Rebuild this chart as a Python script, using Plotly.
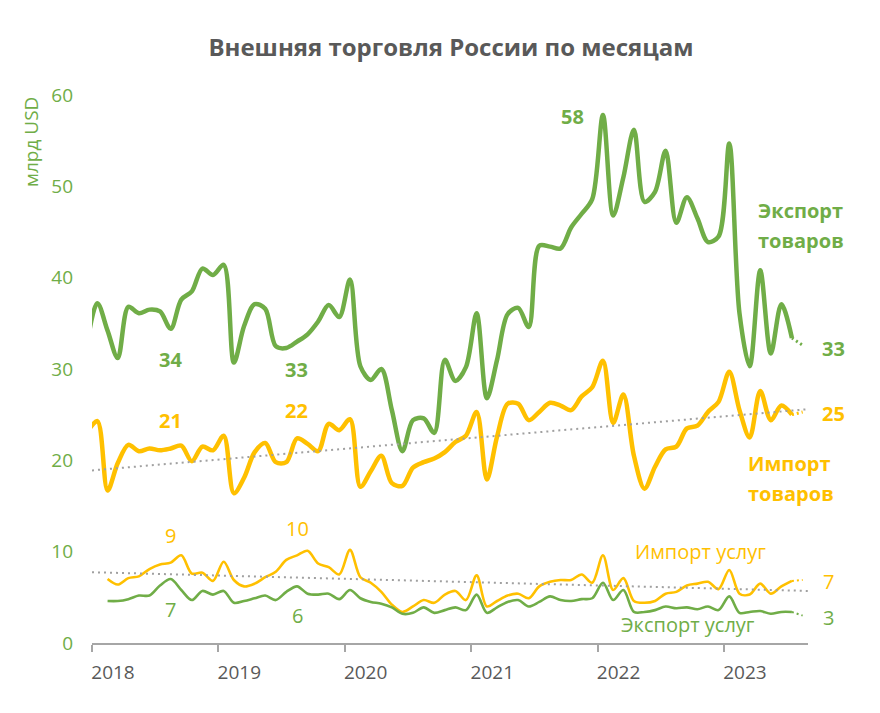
import pandas as pd
import plotly.graph_objects as go

# ---------------- data (billion USD, monthly) ----------------
goods_months = [p.strftime("%Y-%m") for p in pd.period_range("2017-12", "2023-08", freq="M")]
services_months = [p.strftime("%Y-%m") for p in pd.period_range("2018-02", "2023-08", freq="M")]

export_goods = [32.5,
    37.2, 34.2, 31.2, 36.8, 36.1, 36.5, 36.3, 34.4, 37.6, 38.5, 41.0, 40.3,
    41.4, 30.7, 34.7, 37.1, 36.6, 32.5, 32.3, 33.0, 33.8, 35.2, 37.0, 35.7,
    39.8, 30.3, 28.8, 30.0, 25.5, 21.0, 24.4, 24.6, 23.0, 31.0, 28.7, 30.2,
    36.1, 26.8, 31.0, 36.0, 36.7, 34.6, 43.5, 43.4, 43.2, 45.5, 47.0, 48.6,
    57.8, 46.8, 51.0, 56.2, 48.3, 49.4, 53.9, 46.0, 48.8, 46.5, 43.9, 44.5,
    54.7, 36.1, 30.3, 40.8, 31.7, 37.1, 33.4, 32.6]

import_goods = [23.0,
    24.3, 16.7, 19.7, 21.7, 21.0, 21.3, 21.1, 21.3, 21.6, 19.9, 21.5, 21.1,
    22.7, 16.4, 18.1, 20.9, 21.9, 19.8, 19.8, 22.4, 21.8, 21.0, 24.0, 23.3,
    24.5, 17.1, 18.8, 20.5, 17.5, 17.2, 19.2, 19.8, 20.2, 20.9, 22.0, 22.7,
    25.3, 17.9, 22.6, 26.2, 26.2, 24.4, 25.3, 26.3, 26.0, 25.5, 27.0, 28.0,
    30.9, 24.1, 27.2, 20.5, 16.9, 19.3, 21.2, 21.5, 23.5, 23.8, 25.3, 26.4,
    29.7, 25.5, 22.5, 27.6, 24.4, 26.0, 25.0, 25.3]

import_services = [
    7.0, 6.4, 7.1, 7.3, 8.1, 8.6, 8.8, 9.6, 7.6, 7.7, 6.8,
    8.9, 6.9, 6.2, 6.5, 7.2, 7.8, 9.1, 9.6, 10.1, 8.7, 8.3, 7.5,
    10.2, 7.2, 6.6, 5.6, 4.2, 3.4, 4.0, 4.7, 4.4, 5.3, 5.7, 4.7,
    7.4, 4.0, 4.6, 5.2, 5.4, 4.9, 6.2, 6.7, 6.9, 6.9, 7.5, 6.6,
    9.6, 5.8, 7.1, 4.6, 4.4, 4.6, 5.4, 5.6, 6.3, 6.5, 6.7, 5.9,
    8.0, 5.4, 5.3, 6.5, 5.4, 6.2, 6.8, 6.9]

export_services = [
    4.6, 4.6, 4.8, 5.2, 5.2, 6.3, 7.0, 5.8, 4.7, 5.7, 5.3,
    5.7, 4.4, 4.6, 4.9, 5.2, 4.7, 5.6, 6.2, 5.4, 5.3, 5.4, 4.8,
    5.8, 4.9, 4.5, 4.3, 3.9, 3.2, 3.3, 3.9, 3.3, 3.6, 3.9, 3.6,
    5.3, 3.3, 3.9, 4.5, 4.7, 4.0, 4.5, 5.1, 4.7, 4.6, 4.8, 4.9,
    6.6, 4.7, 5.8, 3.4, 3.4, 3.6, 4.0, 3.8, 3.9, 3.7, 4.0, 3.6,
    5.1, 3.3, 3.4, 3.5, 3.2, 3.4, 3.4, 3.0]

# linear trend lines (values at the two ends of the axis)
trend_x = ["2018-01-01", "2023-09-01"]
trend_import_goods = [18.9, 25.6]
trend_import_services = [7.75, 5.7]

year_ticks = ["2018-01-01", "2019-01-01", "2020-01-01", "2021-01-01", "2022-01-01", "2023-01-01"]
year_labels = ["2018", "2019", "2020", "2021", "2022", "2023"]
y_ticks = [0, 10, 20, 30, 40, 50, 60]


def mid_month(m):
    p = pd.Period(m, freq="M")
    return p.start_time + (p.end_time - p.start_time) / 2


gx = [mid_month(m) for m in goods_months]
sx = [mid_month(m) for m in services_months]

GREEN = "#70AD47"
YELLOW = "#FFC000"
GRAY_T = "#595959"
FONT = "Open Sans"

fig = go.Figure()


def add_series(x, y, color, width):
    # solid part, last month dotted
    fig.add_trace(go.Scatter(x=x[:-1], y=y[:-1], mode="lines",
                             line=dict(color=color, width=width, shape="spline", smoothing=0.9),
                             hoverinfo="skip", showlegend=False))
    fig.add_trace(go.Scatter(x=x[-2:], y=y[-2:], mode="lines",
                             line=dict(color=color, width=max(width - 1.5, 2), dash="2px,3px"),
                             hoverinfo="skip", showlegend=False))


add_series(gx, export_goods, GREEN, 4.5)
add_series(gx, import_goods, YELLOW, 4.5)
add_series(sx, import_services, YELLOW, 2.6)
add_series(sx, export_services, GREEN, 2.6)

for tr in (trend_import_goods, trend_import_services):
    fig.add_trace(go.Scatter(x=trend_x, y=tr, mode="lines",
                             line=dict(color="#A0A0A0", width=2, dash="2px,4px"),
                             hoverinfo="skip", showlegend=False))

# page offset of the figure inside the browser page (default body margin)
OFF = 8
W, H = 880, 713
L, R, T, B = 92, 808, 95, 643   # plot area in page pixels


def lab(text, px, py, color, size, bold=False, anchor="center", angle=0):
    return dict(text=f"<b>{text}</b>" if bold else text, xref="paper", yref="paper",
                x=(px - L) / (R - L), y=(B - py) / (B - T), xanchor=anchor, yanchor="middle",
                showarrow=False, textangle=angle,
                font=dict(family=FONT, size=size, color=color))


ann = [
    lab("млрд USD", 31, 142, GREEN, 19, angle=-90),
    lab("58", 572, 116, GREEN, 20, True),
    lab("Экспорт", 756, 210, GREEN, 20, True, "left"),
    lab("товаров", 756, 240, GREEN, 20, True, "left"),
    lab("33", 820, 348, GREEN, 20, True, "left"),
    lab("34", 170, 359, GREEN, 20, True),
    lab("33", 296, 369, GREEN, 20, True),
    lab("21", 170, 420, YELLOW, 20, True),
    lab("22", 296, 410, YELLOW, 20, True),
    lab("25", 820, 413, YELLOW, 20, True, "left"),
    lab("Импорт", 746, 463, YELLOW, 20, True, "left"),
    lab("товаров", 746, 493, YELLOW, 20, True, "left"),
    lab("9", 170, 535, YELLOW, 20),
    lab("10", 297, 528, YELLOW, 20),
    lab("7", 170, 609, GREEN, 20),
    lab("6", 297, 615, GREEN, 20),
    lab("Импорт услуг", 700, 551, YELLOW, 20),
    lab("7", 821, 581, YELLOW, 20, False, "left"),
    lab("Экспорт услуг", 688, 624, GREEN, 20),
    lab("3", 821, 617, GREEN, 20, False, "left"),
]

fig.update_layout(
    width=W, height=H,
    margin=dict(l=L - OFF, r=W - (R - OFF), t=T - OFF, b=H - (B - OFF), pad=0),
    paper_bgcolor="white", plot_bgcolor="white",
    font=dict(family=FONT),
    title=dict(text="<b>Внешняя торговля России по месяцам</b>", x=(451 - OFF) / W, xanchor="center",
               y=1 - (48 - OFF) / H, yanchor="middle",
               font=dict(family=FONT, size=24, color=GRAY_T)),
    annotations=ann,
    showlegend=False,
)

fig.update_xaxes(type="date", range=["2018-01-01", "2023-09-01"],
                 tickvals=year_ticks, ticktext=year_labels,
                 showline=True, linecolor="#A6A6A6", linewidth=1.5,
                 ticks="outside", ticklen=7, tickwidth=1.5, tickcolor="#A6A6A6",
                 ticklabelshift=21, ticklabelstandoff=4,
                 tickfont=dict(family=FONT, size=19, color=GRAY_T),
                 showgrid=False, zeroline=False, fixedrange=True)
fig.update_yaxes(range=[0, 60], tickvals=y_ticks, showgrid=False, zeroline=False,
                 showline=False, ticks="", ticklabelstandoff=18,
                 tickfont=dict(family=FONT, size=19, color=GREEN), fixedrange=True)

fig.write_html("out.html")
